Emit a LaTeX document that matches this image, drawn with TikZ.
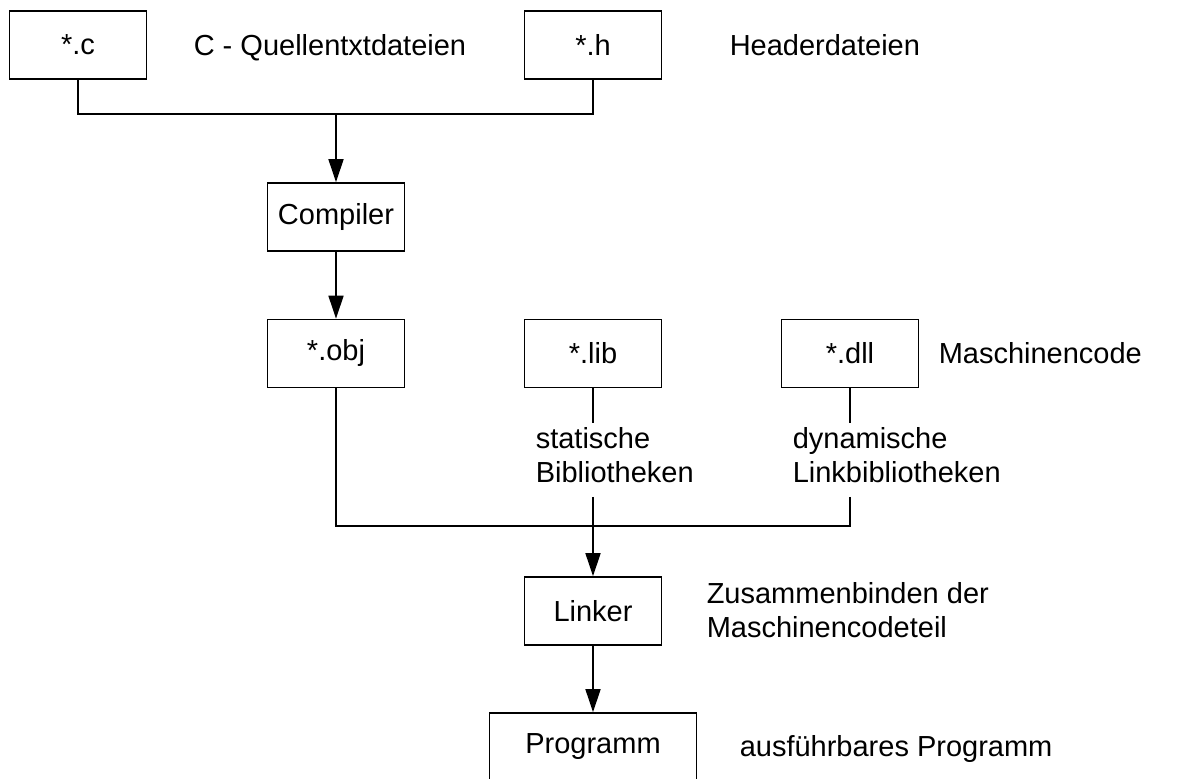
\documentclass[tikz,border=0pt]{standalone}
\usepackage{fontspec}
\setmainfont{Liberation Sans}
\usetikzlibrary{positioning, arrows.meta}

\tikzset{
  box/.style={draw, line width=0.8pt, minimum width=68.5pt, minimum height=34pt, inner sep=0pt},
  note/.style={anchor=base west, inner sep=0pt, align=left},
  arr/.style={-{Triangle[length=11.5pt, width=7.5pt]}}
}

\begin{document}
\begin{tikzpicture}[x=0.5pt, y=-0.5pt, line width=0.75pt, on grid, font=\fontsize{14.5}{17}\selectfont]
  \useasboundingbox (0,0) rectangle (1177,779);
  \clip (0,0) rectangle (1177,779);

  \node[box] (c) at (78,45) {*.c};
  \node[box] (h) [right=257.5pt of c] {*.h};
  \node[box] (comp) [below right=86pt and 129pt of c] {Compiler};
  \node[box] (obj) [below=68.25pt of comp] {*.obj};
  \node[box] (lib) [right=128.5pt of obj] {*.lib};
  \node[box] (dll) [right=128.5pt of lib] {*.dll};
  \node[box] (link) [below=128.75pt of lib] {Linker};
  \node[box, minimum width=103.5pt] (prog) [below=68pt of link] {Programm};

  \node[note] (csrc) at (193,56) {C - Quellentxtdateien};
  \node[note] (hdr) at (729,56) {Headerdateien};
  \node[note] (mcode) at (938,364) {Maschinencode};
  \node[note] (stat) at (535,483) {statische\\Bibliotheken};
  \node[note] (dyn) at (792,483) {dynamische\\Linkbibliotheken};
  \node[note] (bind) at (706,638) {Zusammenbinden der\\Maschinencodeteil};
  \node[note] (exe) at (739,756) {ausführbares Programm};

  \coordinate (topbus) at (336,114);
  \coordinate (libup) at (593,423);
  \coordinate (liblo) at (593,497);
  \coordinate (dllup) at (850,423);
  \coordinate (dlllo) at (850,497);
  \coordinate (bus) at (593,526);

  \draw (c) |- (topbus) -| (h);
  \draw[arr] (topbus) -- (comp);
  \draw[arr] (comp) -- (obj);
  \draw (lib) -- (libup);
  \draw (dll) -- (dllup);
  \draw (obj) |- (bus);
  \draw (dlllo) |- (bus);
  \draw[arr] (liblo) -- (link);
  \draw[arr] (link) -- (prog);
\end{tikzpicture}
\end{document}
